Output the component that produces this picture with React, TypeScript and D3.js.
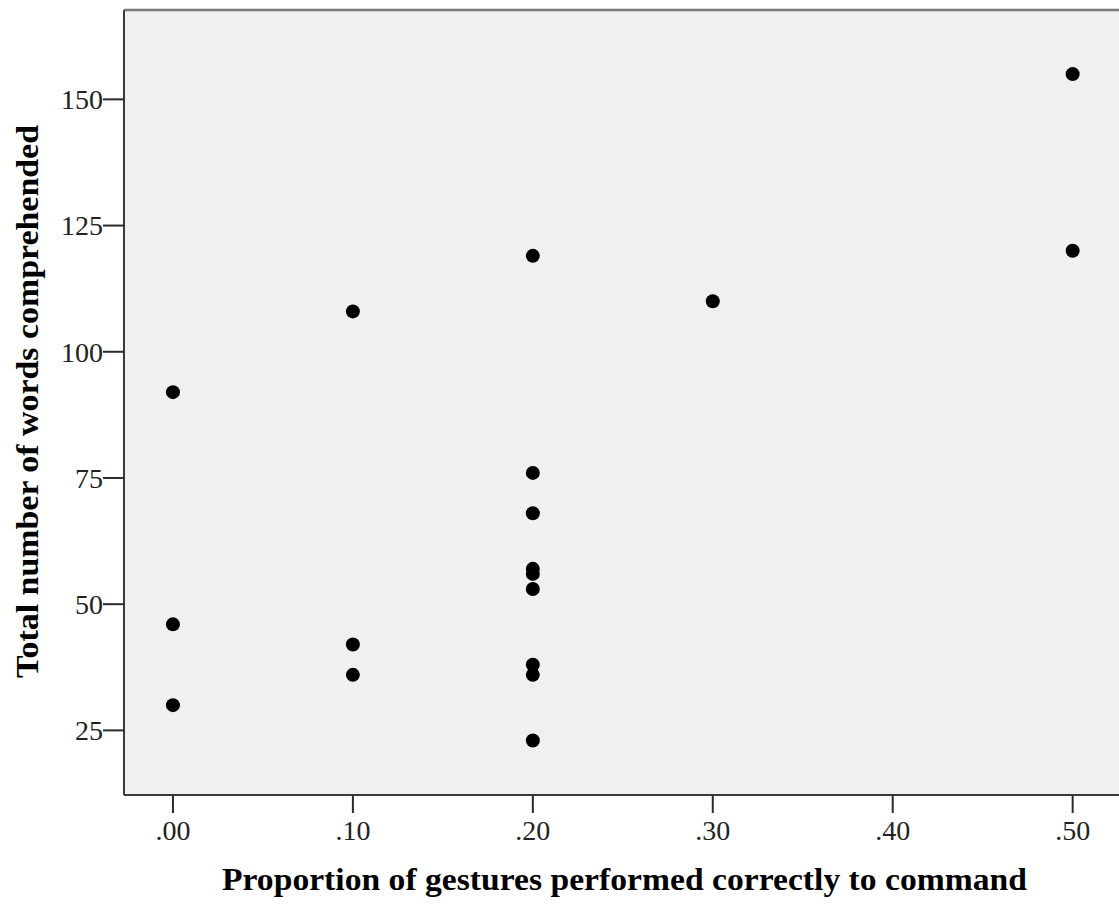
import React from "react";
import * as d3 from "d3";

const proportions = [0, 0, 0, 0.1, 0.1, 0.1, 0.2, 0.2, 0.2, 0.2, 0.2, 0.2, 0.2, 0.2, 0.2, 0.3, 0.5, 0.5];
const wordsComprehended = [92, 46, 30, 108, 42, 36, 119, 76, 68, 57, 56, 53, 38, 36, 23, 110, 155, 120];
const xTicks = [0, 0.1, 0.2, 0.3, 0.4, 0.5];
const yTicks = [25, 50, 75, 100, 125, 150];
const xTitle = "Proportion of gestures performed correctly to command";
const yTitle = "Total number of words comprehended";

const W = 1119;
const H = 904;
const left = 124;
const right = 1121.6;
const top = 10;
const bottom = 795;

export default function App() {
  const x = d3.scaleLinear().domain([-0.0272, 0.5272]).range([left, right]);
  const y = d3.scaleLinear().domain([12.2, 167.7]).range([bottom, top]);
  const fmtX = (v: number) => d3.format(".2f")(v).replace(/^0/, "");
  const font = "'Liberation Serif', 'Times New Roman', serif";
  return (
    <svg width={W} height={H} style={{ position: "absolute", left: 0, top: 0, background: "#fff" }}>
      <rect x={left} y={top} width={right - left} height={bottom - top} fill="#f0f0f0" />
      <line x1={left} x2={right} y1={top} y2={top} stroke="#7a7a7a" strokeWidth={2.5} />
      <line x1={left} x2={left} y1={top} y2={bottom} stroke="#3a3a3a" strokeWidth={2} />
      <line x1={left} x2={right} y1={bottom} y2={bottom} stroke="#3a3a3a" strokeWidth={2} />
      {yTicks.map((t) => (
        <g key={"y" + t}>
          <line x1={left - 21} x2={left} y1={y(t)} y2={y(t)} stroke="#2a2a2a" strokeWidth={2} />
          <text x={left - 21} y={y(t)} dy="0.35em" textAnchor="end" fontFamily={font} fontSize={28} fill="#222">
            {t}
          </text>
        </g>
      ))}
      {xTicks.map((t) => (
        <g key={"x" + t}>
          <line x1={x(t)} x2={x(t)} y1={bottom} y2={bottom + 18} stroke="#2a2a2a" strokeWidth={2} />
          <text x={x(t)} y={840} textAnchor="middle" fontFamily={font} fontSize={28} fill="#222">
            {fmtX(t)}
          </text>
        </g>
      ))}
      {proportions.map((p, i) => (
        <circle key={i} cx={x(p)} cy={y(wordsComprehended[i])} r={7} fill="#000" />
      ))}
      <text
        x={624.5}
        y={890}
        textAnchor="middle"
        fontFamily={font}
        fontSize={32}
        fontWeight="bold"
        fill="#000"
        textLength={805}
        lengthAdjust="spacingAndGlyphs"
      >
        {xTitle}
      </text>
      <text
        transform={`translate(38, 401.5) rotate(-90)`}
        textAnchor="middle"
        fontFamily={font}
        fontSize={32}
        fontWeight="bold"
        fill="#000"
        textLength={553}
        lengthAdjust="spacingAndGlyphs"
      >
        {yTitle}
      </text>
    </svg>
  );
}
